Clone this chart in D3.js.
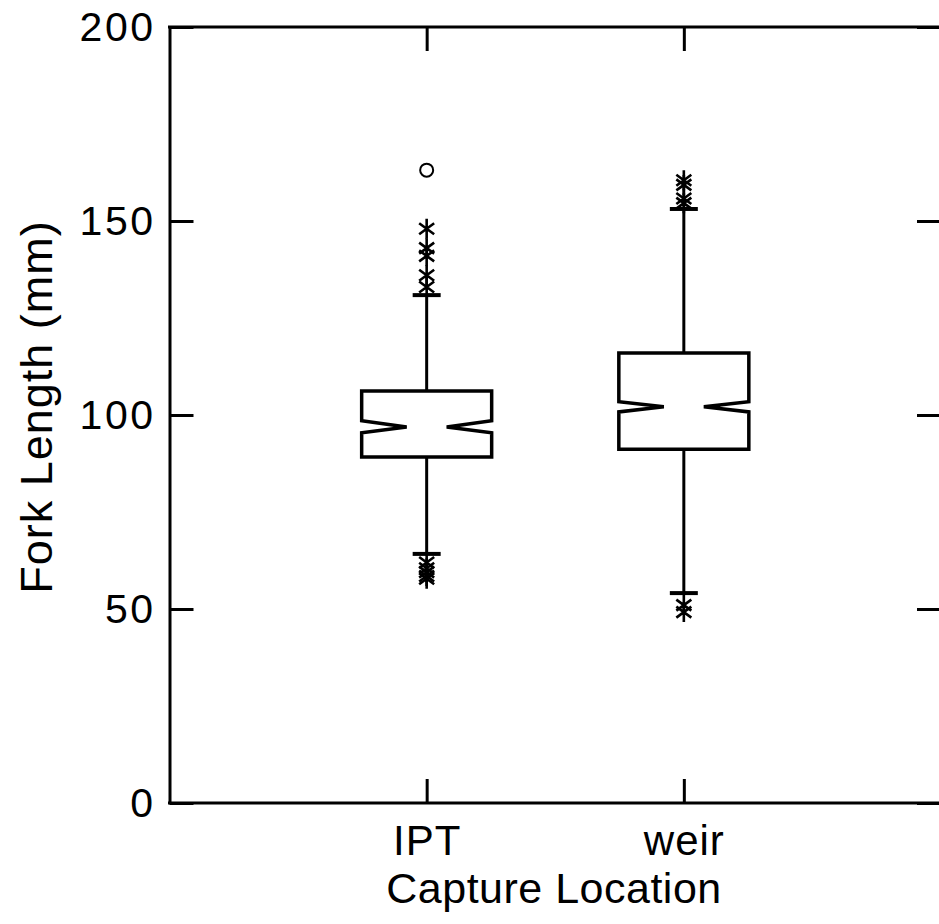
<!DOCTYPE html>
<html>
<head>
<meta charset="utf-8">
<script src="https://cdn.jsdelivr.net/npm/d3@7"></script>
<style>
  html, body { margin: 0; padding: 0; background: #fff; }
  svg { display: block; }
  text { font-family: "Liberation Sans", Arial, Helvetica, sans-serif; fill: #000; }
</style>
</head>
<body>
<svg id="chart" width="939" height="924"></svg>
<script>
// ---- data ----
const categories = ["IPT", "weir"];
const q1 = [89.2, 91.2];
const median = [96.9, 102.1];
const q3 = [106.2, 116.0];
const notchLow = [95.4, 100.8];
const notchHigh = [98.5, 103.4];
const whiskerLow = [64.2, 54.1];
const whiskerHigh = [130.9, 153.1];
const outsideIPT = [148, 143, 141, 136, 133, 62, 60.5, 59.5, 58.5, 57.8];
const outsideWeir = [160.5, 159.3, 155.8, 154.6, 51, 49.2];
const farOutIPT = [163.1];
const farOutWeir = [];
const yTicks = [0, 50, 100, 150, 200];
const xTitle = "Capture Location";
const yTitle = "Fork Length (mm)";

const outside = [outsideIPT, outsideWeir];
const farOut = [farOutIPT, farOutWeir];

// ---- layout ----
const mLeft = 169.5, mRight = 941, mTop = 27, mBottom = 803;
const svg = d3.select("#chart");

const x = d3.scalePoint().domain(categories).range([mLeft, mRight]).padding(1);
const y = d3.scaleLinear().domain([0, 200]).range([mBottom, mTop]);

const tickLen = 24;
const axisStroke = 3;

// axes
const gLeft = svg.append("g").attr("transform", `translate(${mLeft},0)`)
  .call(d3.axisLeft(y).tickValues(yTicks).tickSizeInner(-tickLen).tickSizeOuter(0).tickPadding(14));
const gRight = svg.append("g").attr("transform", `translate(${mRight},0)`)
  .call(d3.axisRight(y).tickValues(yTicks).tickSizeInner(-tickLen).tickSizeOuter(0).tickFormat(""));
const gTop = svg.append("g").attr("transform", `translate(0,${mTop})`)
  .call(d3.axisTop(x).tickSizeInner(-tickLen).tickSizeOuter(0).tickFormat(""));
const gBottom = svg.append("g").attr("transform", `translate(0,${mBottom})`)
  .call(d3.axisBottom(x).tickSizeInner(-tickLen).tickSizeOuter(0).tickPadding(22));

[gLeft, gRight, gTop, gBottom].forEach(g => {
  g.select(".domain").attr("stroke", "#000").attr("stroke-width", axisStroke);
  g.selectAll(".tick line").attr("stroke", "#000").attr("stroke-width", axisStroke);
  g.selectAll(".tick text").style("font-size", "41px").style("letter-spacing", "2.5px").attr("fill", "#000");
});
gTop.select(".domain").attr("d", `M${mLeft - 1.5},0H${mRight + 1.5}`);
gBottom.select(".domain").attr("d", `M${mLeft - 1.5},0H${mRight + 1.5}`);
gBottom.selectAll(".tick text").style("font-size", "42px").style("letter-spacing", "1px");

// titles
svg.append("text")
  .attr("x", 554).attr("y", 903)
  .attr("text-anchor", "middle")
  .style("font-size", "43px").style("letter-spacing", "0.5px")
  .text(xTitle);
svg.append("text")
  .attr("transform", `translate(52,${y(100) - 8}) rotate(-90)`)
  .attr("text-anchor", "middle")
  .style("font-size", "45px").style("letter-spacing", "1px")
  .text(yTitle);

// ---- box plots ----
const halfW = 65, notchHalf = 20, capHalf = 14;
const plot = svg.append("g").attr("fill", "none").attr("stroke", "#000");

categories.forEach((c, i) => {
  const cx = x(c);
  plot.append("line").attr("x1", cx).attr("x2", cx)
    .attr("y1", y(q3[i])).attr("y2", y(whiskerHigh[i])).attr("stroke-width", 3);
  plot.append("line").attr("x1", cx).attr("x2", cx)
    .attr("y1", y(q1[i])).attr("y2", y(whiskerLow[i])).attr("stroke-width", 3);
  [whiskerHigh[i], whiskerLow[i]].forEach(v => {
    plot.append("line").attr("x1", cx - capHalf).attr("x2", cx + capHalf)
      .attr("y1", y(v)).attr("y2", y(v)).attr("stroke-width", 4);
  });
  const p = d3.path();
  p.moveTo(cx - halfW, y(q3[i]));
  p.lineTo(cx + halfW, y(q3[i]));
  p.lineTo(cx + halfW, y(notchHigh[i]));
  p.lineTo(cx + notchHalf, y(median[i]));
  p.lineTo(cx + halfW, y(notchLow[i]));
  p.lineTo(cx + halfW, y(q1[i]));
  p.lineTo(cx - halfW, y(q1[i]));
  p.lineTo(cx - halfW, y(notchLow[i]));
  p.lineTo(cx - notchHalf, y(median[i]));
  p.lineTo(cx - halfW, y(notchHigh[i]));
  p.closePath();
  plot.append("path").attr("d", p.toString()).attr("fill", "#fff")
    .attr("stroke-width", 3.5).attr("stroke-linejoin", "miter");

  outside[i].forEach(v => {
    const cy = y(v);
    const s = d3.path();
    s.moveTo(cx - 7.5, cy - 5.5); s.lineTo(cx + 7.5, cy + 5.5);
    s.moveTo(cx + 7.5, cy - 5.5); s.lineTo(cx - 7.5, cy + 5.5);
    s.moveTo(cx, cy - 10); s.lineTo(cx, cy + 10);
    plot.append("path").attr("d", s.toString()).attr("stroke-width", 2.6);
  });
  farOut[i].forEach(v => {
    plot.append("circle").attr("cx", cx).attr("cy", y(v)).attr("r", 6.5)
      .attr("stroke-width", 2);
  });
});
</script>
</body>
</html>
